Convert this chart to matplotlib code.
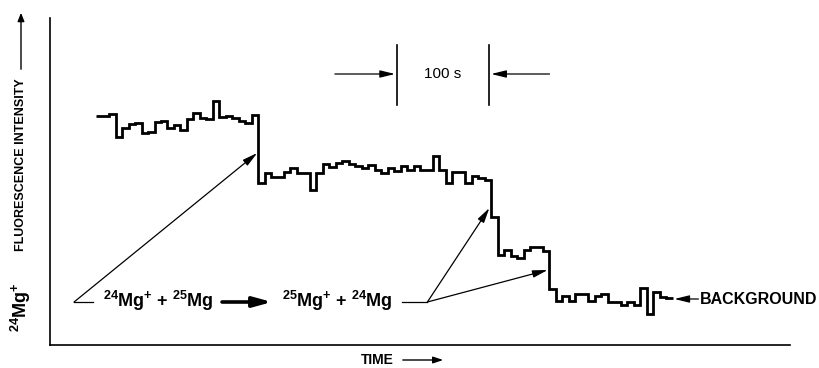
import matplotlib
matplotlib.use("Agg")
import matplotlib.pyplot as plt
import numpy as np

plt.rcParams['font.family'] = ['Liberation Sans', 'DejaVu Sans']
plt.rcParams['mathtext.fontset'] = 'custom'
plt.rcParams['mathtext.rm'] = 'Liberation Sans:bold'
plt.rcParams['mathtext.it'] = 'Liberation Sans:bold'
plt.rcParams['mathtext.bf'] = 'Liberation Sans:bold'

# ---- data (time in s, intensity in arbitrary counts) ----
t_start = 50.0
bin_width = 7.0
seg_24mg = [229, 229, 231, 208, 217, 221, 222, 212, 213, 223, 224, 217, 220,
            215, 226, 232, 227, 226, 244, 228, 229, 227, 224, 222, 230]
seg_after_first = [162, 172, 168, 168, 173, 177, 172, 172, 155, 172, 181, 178,
                   182, 184, 181, 179, 177, 180, 175, 172, 177, 174, 179, 175,
                   179, 175, 175, 189, 175, 162, 173, 173, 162, 169, 167, 165]
seg_after_second = [128, 90, 95, 89, 87, 95, 98, 98, 94]
seg_background = [56, 44, 49, 44, 51, 51, 44, 49, 51, 43, 43, 40, 43, 40,
                  57, 31, 53, 48, 47]
counts = np.array(seg_24mg + seg_after_first + seg_after_second + seg_background, float)
edges = t_start + bin_width * np.arange(len(counts) + 1)

scale_bar = (375, 475)   # 100 s

fig = plt.figure(figsize=(8.2, 3.68), dpi=100)
ax = fig.add_axes([50/820, 23/368, 740/820, 327/368])
ax.set_xlim(0, 800)
ax.set_ylim(0, 327)
for s in ['top', 'right']:
    ax.spines[s].set_visible(False)
for s in ['left', 'bottom']:
    ax.spines[s].set_linewidth(1.2)
ax.set_xticks([])
ax.set_yticks([])

ax.stairs(counts, edges, baseline=None, color='black', lw=2.0)

thin = dict(arrowstyle='-|>,head_length=0.9,head_width=0.22', lw=0.9,
            color='black', shrinkA=0, shrinkB=0)

# reaction annotation
ax.plot([26, 46], [43, 43], color='black', lw=0.9, clip_on=False)
ax.annotate('', xy=(224, 192), xytext=(26, 43), arrowprops=thin)
ax.text(57, 38, r'$^{24}$Mg$^{+}$ + $^{25}$Mg', fontsize=13, fontweight='bold',
        va='baseline', ha='left')
ax.annotate('', xy=(240, 43), xytext=(186, 43),
            arrowprops=dict(arrowstyle='-|>,head_length=1.1,head_width=0.3',
                            lw=2.6, color='black', shrinkA=0, shrinkB=0))
ax.text(251, 38, r'$^{25}$Mg$^{+}$ + $^{24}$Mg', fontsize=13, fontweight='bold',
        va='baseline', ha='left')
ax.plot([381, 408], [43, 43], color='black', lw=0.9)
ax.annotate('', xy=(475, 137), xytext=(408, 43), arrowprops=thin)
ax.annotate('', xy=(538, 75), xytext=(408, 43), arrowprops=thin)

# background label
ax.annotate('', xy=(675, 46), xytext=(701, 46), arrowprops=thin, annotation_clip=False)
ax.text(703, 46, 'BACKGROUND', fontsize=11.5, fontweight='bold',
        va='center', ha='left', clip_on=False)

# 100 s scale bar
for xb in scale_bar:
    ax.plot([xb, xb], [240, 300], color='black', lw=1.2)
ax.annotate('', xy=(scale_bar[0] - 2, 271), xytext=(308, 271), arrowprops=thin)
ax.annotate('', xy=(scale_bar[1] + 2, 271), xytext=(540, 271), arrowprops=thin)
ax.text(sum(scale_bar) / 2, 271, '100 s', fontsize=11, ha='center', va='center')

# axis labels
fig.text(21/820, 1 - 332/368, r'$^{24}$Mg$^{+}$', rotation=90, ha='center',
         va='bottom', fontsize=13, fontweight='bold')
fig.text(21/820, 1 - 251/368, 'FLUORESCENCE INTENSITY', rotation=90,
         ha='center', va='bottom', fontsize=9, fontweight='bold')
fig.add_artist(matplotlib.patches.FancyArrowPatch(
    (21/820, 1 - 72/368), (21/820, 1 - 10/368), transform=fig.transFigure,
    arrowstyle='-|>,head_length=5,head_width=2', lw=1.0, color='black'))
fig.text(394/820, 1 - 360/368, 'TIME', ha='right', va='center', fontsize=10,
         fontweight='bold')
fig.add_artist(matplotlib.patches.FancyArrowPatch(
    (400/820, 1 - 360/368), (446/820, 1 - 360/368), transform=fig.transFigure,
    arrowstyle='-|>,head_length=6,head_width=2', lw=1.0, color='black'))

fig.savefig('out.png', dpi=100)
